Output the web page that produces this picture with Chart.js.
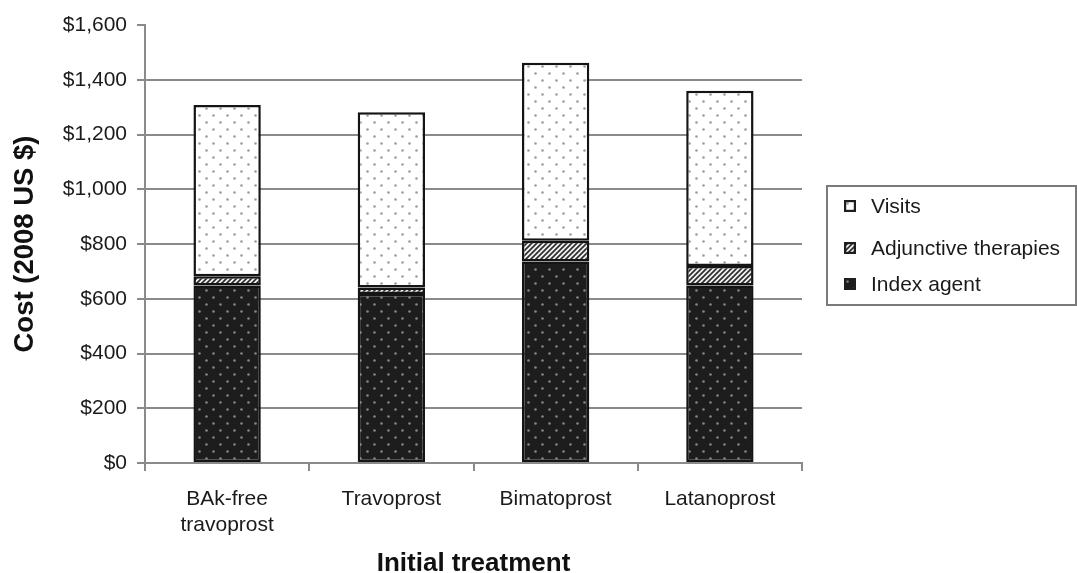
<!DOCTYPE html>
<html>
<head>
<meta charset="utf-8">
<script src="https://cdn.jsdelivr.net/npm/chart.js@4.4.1/dist/chart.umd.min.js"></script>
<style>
  html, body { margin: 0; padding: 0; background: #fff; }
  #wrap { position: relative; width: 1077px; height: 573px; overflow: hidden; }
  #legend { position: absolute; left: 826px; top: 185px; width: 247px; height: 117px;
            border: 2px solid #7a7a7a; box-sizing: content-box; }
  .item { position: absolute; left: 0; font-family: "Liberation Sans", Arial, sans-serif;
          font-size: 21px; color: #1a1a1a; white-space: nowrap; }
  .item canvas { position: absolute; left: 16px; }
  .item span { position: absolute; left: 43px; }
</style>
</head>
<body>
<div id="wrap">
  <canvas id="c" width="1077" height="573"></canvas>
  <div id="legend"></div>
</div>
<script>
// ---- data ----
const categories = [["BAk-free", "travoprost"], "Travoprost", "Bimatoprost", "Latanoprost"];
const seriesNames = ["Index agent", "Adjunctive therapies", "Visits"];
const indexAgent = [648, 617, 736, 648];
const adjunctive = [34, 24, 76, 72];
const visits = [626, 640, 650, 640];
const yTicks = [0, 200, 400, 600, 800, 1000, 1200, 1400, 1600];

// ---- patterns (styling only) ----
function dotPattern(bg, dot, step, r) {
  const c = document.createElement('canvas');
  c.width = step * 2; c.height = step * 2;
  const g = c.getContext('2d');
  g.fillStyle = bg; g.fillRect(0, 0, c.width, c.height);
  g.fillStyle = dot;
  [[step / 2, step / 2], [step * 1.5, step * 1.5]].forEach(([x, y]) => {
    g.beginPath(); g.arc(x, y, r, 0, Math.PI * 2); g.fill();
  });
  return c;
}
function hatchPattern() {
  const s = 5;
  const c = document.createElement('canvas');
  c.width = s; c.height = s;
  const g = c.getContext('2d');
  g.fillStyle = '#f2f2f2'; g.fillRect(0, 0, s, s);
  g.strokeStyle = '#2e2e2e'; g.lineWidth = 1.7;
  g.beginPath();
  g.moveTo(-1, s + 1); g.lineTo(s + 1, -1);
  g.moveTo(-1, 1); g.lineTo(1, -1);
  g.moveTo(s - 1, s + 1); g.lineTo(s + 1, s - 1);
  g.stroke();
  return c;
}
const ctx = document.getElementById('c').getContext('2d');
const pIndex = ctx.createPattern(dotPattern('#1d1d1d', '#858585', 7, 1.3), 'repeat');
const pVisits = ctx.createPattern(dotPattern('#ffffff', '#9c9c9c', 7, 1.3), 'repeat');
const pAdj = ctx.createPattern(hatchPattern(), 'repeat');

Chart.defaults.font.family = '"Liberation Sans", Arial, sans-serif';
Chart.defaults.color = '#1a1a1a';

const gridGray = '#8a8a8a';

new Chart(ctx, {
  type: 'bar',
  data: {
    labels: categories,
    datasets: [
      { label: seriesNames[0], data: indexAgent, backgroundColor: pIndex },
      { label: seriesNames[1], data: adjunctive, backgroundColor: pAdj },
      { label: seriesNames[2], data: visits, backgroundColor: pVisits }
    ].map(d => Object.assign(d, {
      borderColor: '#141414', borderWidth: 2.5, borderSkipped: false,
      barPercentage: 0.41, categoryPercentage: 1
    }))
  },
  options: {
    responsive: false,
    animation: false,
    devicePixelRatio: 1,
    layout: { padding: { top: 25, right: 275, left: 0, bottom: 0 } },
    plugins: { legend: { display: false }, tooltip: { enabled: false } },
    scales: {
      x: {
        stacked: true,
        grid: { offset: true, drawOnChartArea: false, drawTicks: true, tickLength: 8,
                color: gridGray, lineWidth: 2 },
        border: { color: gridGray, width: 2 },
        ticks: { font: { size: 21 }, padding: 16, maxRotation: 0, color: '#1a1a1a' },
        title: { display: true, text: 'Initial treatment',
                 font: { size: 26, weight: 'bold', lineHeight: 0.7 }, padding: 0, color: '#111' },
        afterFit: s => { s.height = 110; }
      },
      y: {
        stacked: true,
        min: 0, max: 1600,
        afterBuildTicks: s => { s.ticks = yTicks.map(v => ({ value: v })); },
        grid: { color: c => (c.tick && c.tick.value === 1600) ? 'rgba(0,0,0,0)' : gridGray,
                tickColor: gridGray, lineWidth: 2, tickLength: 8 },
        border: { color: gridGray, width: 2 },
        ticks: { font: { size: 21 }, padding: 10, color: '#1a1a1a',
                 callback: v => '$' + Number(v).toLocaleString('en-US') },
        title: { display: true, text: 'Cost (2008 US $)',
                 font: { size: 27.5, weight: 'bold', lineHeight: 1.2 }, padding: { top: 9 }, color: '#111' },
        afterFit: s => { s.width = 145; }
      }
    }
  }
});

// ---- legend (HTML) ----
const legend = document.getElementById('legend');
const legendItems = [
  { name: seriesNames[2], fill: pVisits, y: 19 },
  { name: seriesNames[1], fill: pAdj, y: 61 },
  { name: seriesNames[0], fill: pIndex, y: 97 }
];
legendItems.forEach(it => {
  const d = document.createElement('div');
  d.className = 'item';
  d.style.top = (it.y - 12) + 'px';
  const cv = document.createElement('canvas');
  cv.width = 12; cv.height = 12;
  cv.style.top = '6px';
  const g = cv.getContext('2d');
  g.fillStyle = it.fill; g.fillRect(0, 0, 12, 12);
  g.strokeStyle = '#1e1e1e'; g.lineWidth = 2.2; g.strokeRect(1.1, 1.1, 9.8, 9.8);
  const sp = document.createElement('span');
  sp.textContent = it.name;
  sp.style.top = '0px';
  d.appendChild(cv); d.appendChild(sp);
  legend.appendChild(d);
});
</script>
</body>
</html>
